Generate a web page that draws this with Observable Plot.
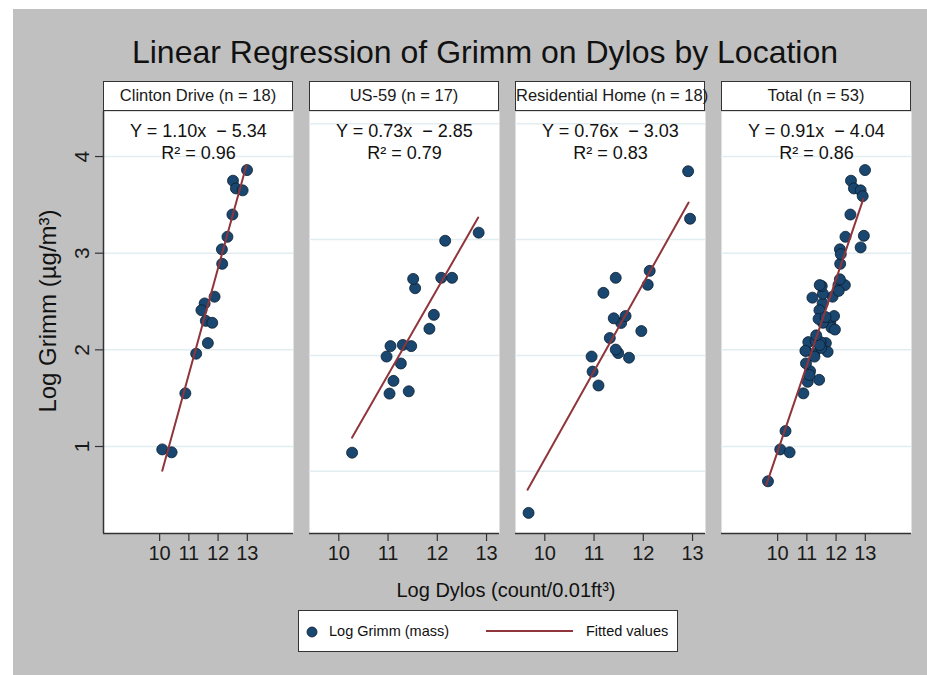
<!DOCTYPE html>
<html><head><meta charset="utf-8">
<script src="https://cdn.jsdelivr.net/npm/d3@7"></script>
<script src="https://cdn.jsdelivr.net/npm/@observablehq/plot@0.6"></script>
<style>
body{margin:0;background:#fff;}
#root{position:relative;width:927px;height:675px;overflow:hidden;font-family:"Liberation Sans",Arial,sans-serif;color:#1a1a1a;}
.bg{position:absolute;left:13px;top:9px;right:0;bottom:0;background:#c0c0c0;}
.abs{position:absolute;white-space:nowrap;}
.hdr{position:absolute;top:81px;height:30px;width:190px;box-sizing:border-box;border:1.5px solid #333;background:#fff;font-size:16.5px;line-height:27px;text-align:center;white-space:nowrap;}
</style></head><body><div id="root"><div class="bg"></div></div>
<script>
// ---- data ----
const panelNames = ["Clinton Drive (n = 18)", "US-59 (n = 17)", "Residential Home (n = 18)", "Total (n = 53)"];
const equations = ["Y = 1.10x \u00a0\u2212 5.34", "Y = 0.73x \u00a0\u2212 2.85", "Y = 0.76x \u00a0\u2212 3.03", "Y = 0.91x \u00a0\u2212 4.04"];
const r2Values = ["0.96", "0.79", "0.83", "0.86"];

const clintonX = [12.99, 12.51, 12.61, 12.84, 12.49, 12.32, 12.13, 12.14, 11.88, 11.54, 11.43, 11.58, 11.80, 11.65, 11.25, 10.88, 10.09, 10.41];
const clintonY = [3.86, 3.75, 3.67, 3.65, 3.40, 3.17, 3.04, 2.89, 2.55, 2.48, 2.41, 2.30, 2.28, 2.07, 1.96, 1.55, 0.97, 0.94];

const us59X = [10.27, 11.03, 11.42, 11.11, 11.26, 10.97, 11.05, 11.30, 11.47, 11.84, 11.93, 11.55, 11.51, 12.08, 12.30, 12.16, 12.84];
const us59Y = [1.16, 1.67, 1.69, 1.78, 1.93, 1.99, 2.08, 2.09, 2.08, 2.23, 2.35, 2.58, 2.66, 2.67, 2.67, 2.99, 3.06];

const homeX = [9.67, 11.09, 10.97, 10.95, 11.71, 11.49, 11.44, 11.32, 11.96, 11.55, 11.40, 11.64, 11.19, 11.44, 12.09, 12.13, 12.95, 12.91];
const homeY = [0.64, 1.74, 1.86, 1.99, 1.98, 2.02, 2.05, 2.15, 2.21, 2.28, 2.32, 2.34, 2.54, 2.67, 2.61, 2.73, 3.18, 3.59];

// fitted values (line end points)
const fitClintonX = [10.09, 12.97], fitClintonY = [0.75, 3.91];
const fitUs59X = [10.27, 12.83], fitUs59Y = [1.29, 3.19];
const fitHomeX = [9.65, 12.92], fitHomeY = [0.84, 3.32];
const fitTotalX = [9.61, 12.93], fitTotalY = [0.60, 3.56];

const xTicks = [10, 11, 12, 13];
const yTicks = [1, 2, 3, 4];

// ---- layout ----
const FONT = '"Liberation Sans", Arial, sans-serif';
const root = document.getElementById("root");
function addDiv(cls, css, html) {
  const d = document.createElement("div");
  d.className = cls; d.style.cssText = css; d.innerHTML = html;
  root.appendChild(d); return d;
}
const zip = (xs, ys) => xs.map((x, i) => ({x, y: ys[i]}));

const wideX = [8.08, 14.58], wideY = [0.10, 4.466];
const narrowX = [9.405, 13.263], narrowY = [0.462, 4.106];
const panelLefts = [103, 309, 515, 721];

const panelData = [
  {pts: zip(clintonX, clintonY), fit: zip(fitClintonX, fitClintonY), xd: wideX, yd: wideY},
  {pts: zip(us59X, us59Y), fit: zip(fitUs59X, fitUs59Y), xd: narrowX, yd: narrowY},
  {pts: zip(homeX, homeY), fit: zip(fitHomeX, fitHomeY), xd: narrowX, yd: narrowY},
  {pts: zip(clintonX.concat(us59X, homeX), clintonY.concat(us59Y, homeY)), fit: zip(fitTotalX, fitTotalY), xd: wideX, yd: wideY}
];

addDiv("abs", `left:485px;top:36px;transform:translateX(-50%);font-size:32px;line-height:32px;color:#111;`, "Linear Regression of Grimm on Dylos by Location");

panelData.forEach((p, i) => {
  const showY = i === 0;
  const ML = showY ? 40 : 0;
  const W = 190, H = 422, MB = 50;
  const svg = Plot.plot({
    width: ML + W, height: H + MB,
    marginTop: 0, marginRight: 0, marginBottom: MB, marginLeft: ML,
    style: {background: "transparent", fontFamily: FONT, fontSize: "20px", color: "#222", overflow: "visible"},
    x: {domain: p.xd, axis: null},
    y: {domain: p.yd, axis: null},
    marks: [
      Plot.frame({fill: "white", stroke: "none"}),
      Plot.gridY(yTicks, {stroke: "#e2edf1", strokeOpacity: 1, strokeWidth: 1.5}),
      Plot.axisX(xTicks, {tickSize: 8, tickPadding: 4, tickFormat: d => String(d), label: null, stroke: "#333", strokeWidth: 1.2, fontSize: 20, fill: "#1a1a1a"}),
      Plot.ruleY([p.yd[0]], {stroke: "#333", strokeWidth: 1.5}),
      showY ? Plot.axisY(yTicks, {tickSize: 8, tickPadding: 7, tickRotate: -90, tickFormat: d => String(d), label: null, stroke: "#333", strokeWidth: 1.2, fontSize: 21, fill: "#1a1a1a"}) : null,
      showY ? Plot.ruleX([p.xd[0]], {stroke: "#333", strokeWidth: 1.5}) : null,
      Plot.dot(p.pts, {x: "x", y: "y", r: 5.5, fill: "#1a476f", stroke: "#0a1d30", strokeWidth: 0.8}),
      Plot.line(p.fit, {x: "x", y: "y", stroke: "#90353b", strokeWidth: 2}),
      Plot.text([equations[i] + "\n" + "R\u00b2 = " + r2Values[i]], {frameAnchor: "top", lineAnchor: "top", dy: 10, fontSize: 18, lineHeight: 1.22, text: d => d, fill: "#111"})
    ]
  });
  svg.style.position = "absolute";
  svg.style.left = (panelLefts[i] - ML) + "px";
  svg.style.top = "111px";
  root.appendChild(svg);
  addDiv("hdr", `left:${panelLefts[i]}px;`, panelNames[i]);
});

addDiv("abs", `left:48px;top:311px;transform:translate(-50%,-50%) rotate(-90deg);font-size:24px;line-height:24px;color:#111;`, "Log Grimm (\u00b5g/m\u00b3)");
addDiv("abs", `left:506px;top:580px;transform:translateX(-50%);font-size:20px;line-height:20px;color:#111;`, "Log Dylos (count/0.01ft\u00b3)");

// legend
const leg = addDiv("abs", `left:298px;top:610px;width:380px;height:42px;box-sizing:border-box;border:1.5px solid #333;background:#fff;font-size:14.5px;color:#111;`,
  `<svg width="380" height="42" style="position:absolute;left:-1.5px;top:-1.5px">
     <circle cx="14" cy="22" r="5" fill="#1a476f" stroke="#0a1d30" stroke-width="0.8"></circle>
     <line x1="188" x2="275" y1="21" y2="21" stroke="#90353b" stroke-width="2"></line>
   </svg>
   <div style="position:absolute;left:30px;top:12px;line-height:16px;">Log Grimm (mass)</div>
   <div style="position:absolute;left:287px;top:12px;line-height:16px;">Fitted values</div>`);
</script>
</body></html>
